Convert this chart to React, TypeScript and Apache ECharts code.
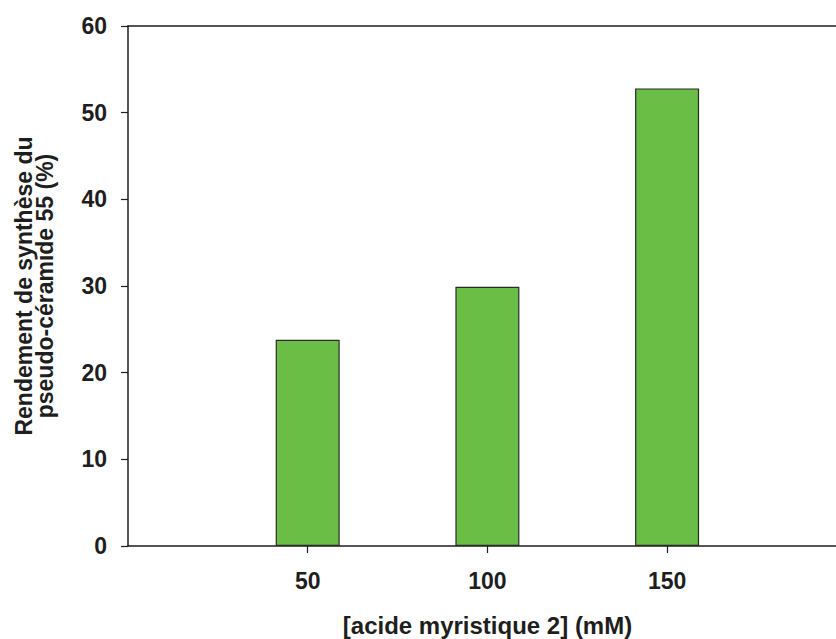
import React, { useEffect, useRef } from "react";
import * as echarts from "echarts";

const concentrations = [50, 100, 150];
const yields = [23.8, 29.9, 52.8];
const xRange = { min: 0, max: 197 };
const yTicks = { min: 0, max: 60, interval: 10 };
const xTitle = "[acide myristique 2] (mM)";
const yTitle = "Rendement de synthèse du\npseudo-céramide 55 (%)";

const FONT = "'Liberation Sans', Arial, sans-serif";
const INK = "#1e1e1e";

export default function App() {
  const ref = useRef<HTMLDivElement>(null);
  useEffect(() => {
    if (!ref.current) return;
    const chart = echarts.init(ref.current, null, { renderer: "svg" });
    chart.setOption({
      animation: false,
      backgroundColor: "#ffffff",
      textStyle: { fontFamily: FONT },
      grid: {
        left: 128,
        right: 0,
        top: 26,
        bottom: 93,
        containLabel: false,
        outerBoundsMode: "none",
      },
      xAxis: [
        {
          type: "value",
          min: xRange.min,
          max: xRange.max,
          position: "bottom",
          axisLine: { show: true, onZero: false, lineStyle: { color: INK, width: 1.5 } },
          axisTick: {
            show: true,
            length: 7,
            inside: false,
            customValues: concentrations,
            lineStyle: { color: INK, width: 1.2 },
          },
          axisLabel: {
            show: true,
            customValues: concentrations,
            margin: 23,
            fontSize: 23,
            fontWeight: "bold",
            color: INK,
            fontFamily: FONT,
          },
          splitLine: { show: false },
          name: xTitle,
          nameLocation: "middle",
          nameGap: 67,
          nameTextStyle: {
            fontSize: 24,
            fontWeight: "bold",
            color: INK,
            fontFamily: FONT,
            verticalAlign: "top",
            padding: [0, 0, 0, 11],
          },
        },
        {
          type: "value",
          min: xRange.min,
          max: xRange.max,
          position: "top",
          axisLine: { show: true, onZero: false, lineStyle: { color: INK, width: 1.5 } },
          axisTick: { show: false },
          axisLabel: { show: false },
          splitLine: { show: false },
        },
      ],
      yAxis: {
        type: "value",
        min: yTicks.min,
        max: yTicks.max,
        interval: yTicks.interval,
        axisLine: { show: true, onZero: false, lineStyle: { color: INK, width: 1.5 } },
        axisTick: { show: true, length: 7, inside: false, lineStyle: { color: INK, width: 1.2 } },
        axisLabel: {
          margin: 21,
          fontSize: 23,
          fontWeight: "bold",
          color: INK,
          fontFamily: FONT,
        },
        splitLine: { show: false },
        name: yTitle,
        nameLocation: "middle",
        nameGap: 73,
        nameRotate: 90,
        nameTextStyle: {
          fontSize: 23,
          fontWeight: "bold",
          color: INK,
          fontFamily: FONT,
          lineHeight: 21,
          align: "center",
        },
      },
      series: [
        {
          type: "bar",
          xAxisIndex: 0,
          data: concentrations.map((c, i) => [c, yields[i]]),
          barWidth: 64,
          itemStyle: { color: "#6abd45", borderColor: "#2a2a2a", borderWidth: 1.2 },
        },
      ],
    });
    return () => chart.dispose();
  }, []);
  return <div ref={ref} style={{ width: 836, height: 639, position: "absolute", left: 0, top: 0 }} />;
}
